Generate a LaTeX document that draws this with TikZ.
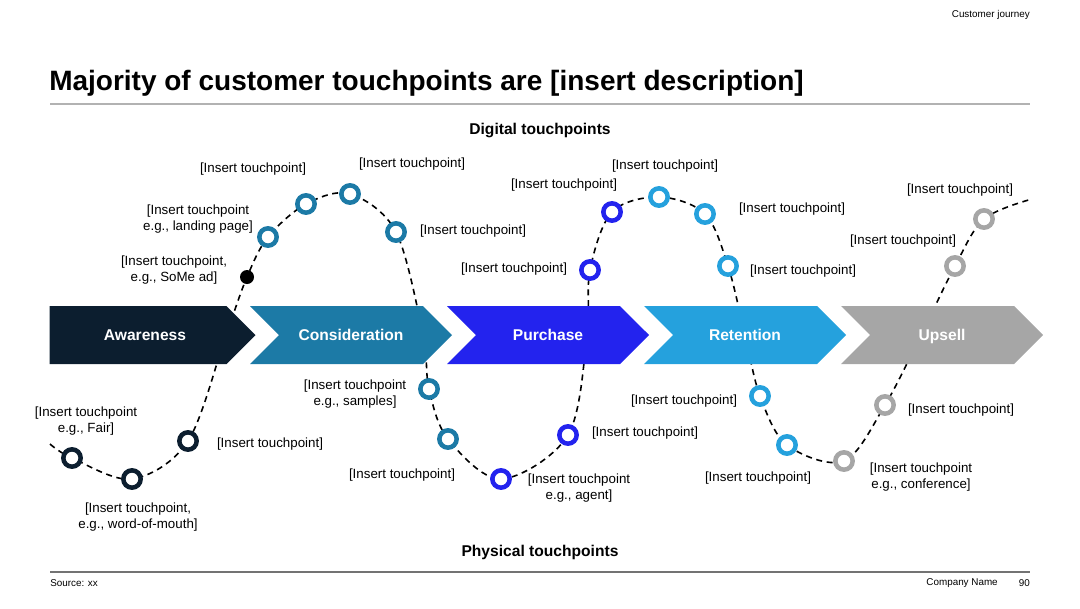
\documentclass[tikz,border=0pt]{standalone}
\usepackage{fontspec}
\setmainfont{Liberation Sans}
\usetikzlibrary{shapes.symbols,backgrounds}
\definecolor{cAware}{HTML}{0C1E2F}
\definecolor{cConsid}{HTML}{1C7AA6}
\definecolor{cPurch}{HTML}{2323EE}
\definecolor{cRetent}{HTML}{25A1DD}
\definecolor{cUpsell}{HTML}{A6A6A6}
\tikzset{
  stage/.style={signal, signal to=east, signal from=west, fill=#1, text=white,
    font=\fontsize{11.7}{14}\selectfont\bfseries, minimum width=151.5pt,
    minimum height=43.5pt, text height=8.4pt, text depth=0pt, inner sep=0pt, outer sep=0pt},
  tp/.style={circle, draw=#1, fill=white, line width=3.4pt, minimum size=13pt, inner sep=0pt},
  blackdot/.style={circle, fill=black, minimum size=10.5pt, inner sep=0pt},
  txt/.style={align=center, font=\fontsize{10}{12}\selectfont, inner sep=0pt},
  small/.style={font=\fontsize{7.4}{9}\selectfont, inner sep=0pt},
  head/.style={font=\fontsize{11.7}{14}\selectfont\bfseries, inner sep=0pt},
  journey/.style={line width=1.2pt, dash pattern=on 4.5pt off 3.5pt}
}

\begin{document}
\begin{tikzpicture}[x=0.75pt, y=-0.75pt]
        \useasboundingbox (0,0) rectangle (1080,608);
        \node [small, anchor=east] (hd) at (1030,15) {Customer journey};
        \node [anchor=base west, inner sep=0pt, font=\fontsize{21}{25}\selectfont\bfseries] (title) at (49,90) {Majority of customer touchpoints are [insert description]};
        \draw [line width=1.1pt, black!30] (50,104) -- (1030,104);
        \node [head] (dig) at (540,130) {Digital touchpoints};
        \node [head] (phy) at (540,552) {Physical touchpoints};
        \draw [line width=0.8pt, black!55] (50,572) -- (1030,572);
        \node [small, anchor=west] (src) at (50,583) {Source: xx};
        \node [small, anchor=east] (cmp) at (998,583) {Company Name};
        \node [small, anchor=east] (pg) at (1030,583) {90};

        \node [stage=cAware, signal from=nowhere, minimum width=154.5pt] (s1) at (138,335) {\hspace*{10.5pt}Awareness};
        \node [stage=cConsid] (s2) at (351,335) {Consideration};
        \node [stage=cPurch] (s3) at (548,335) {Purchase};
        \node [stage=cRetent] (s4) at (745,335) {Retention};
        \node [stage=cUpsell] (s5) at (942,335) {Upsell};

        \node [tp=cAware] (a1) at (72,458) {};
        \node [tp=cAware] (a2) at (132,479) {};
        \node [tp=cAware] (a3) at (188,441) {};
        \node [blackdot] (d1) at (247,277) {};
        \node [tp=cConsid] (c1) at (268,237) {};
        \node [tp=cConsid] (c2) at (306,204) {};
        \node [tp=cConsid] (c3) at (350,194) {};
        \node [tp=cConsid] (c4) at (396,232) {};
        \node [tp=cConsid] (c5) at (429,389) {};
        \node [tp=cConsid] (c6) at (448,439) {};
        \node [tp=cPurch] (p1) at (501,479) {};
        \node [tp=cPurch] (p2) at (568,435) {};
        \node [tp=cPurch] (p3) at (590,270) {};
        \node [tp=cPurch] (p4) at (612,212) {};
        \node [tp=cRetent] (r1) at (659,197) {};
        \node [tp=cRetent] (r2) at (705,214) {};
        \node [tp=cRetent] (r3) at (728,266) {};
        \node [tp=cRetent] (r4) at (760,396) {};
        \node [tp=cRetent] (r5) at (787,445) {};
        \node [tp=cUpsell] (u1) at (844,461) {};
        \node [tp=cUpsell] (u2) at (885,405) {};
        \node [tp=cUpsell] (u3) at (955,266) {};
        \node [tp=cUpsell] (u4) at (984,219) {};

        \coordinate (j0) at (50,444);
        \coordinate (m1) at (226,335);
        \coordinate (m2) at (423,335);
        \coordinate (m3) at (587,335);
        \coordinate (m4) at (745,335);
        \coordinate (m5) at (921,335);
        \coordinate (j1) at (1032,199);
        \begin{scope}[on background layer]
        \draw [journey] plot [smooth, tension=0.55] coordinates {(j0) (a1.center) (a2.center) (a3.center) (m1) (d1.center)
          (c1.center) (c2.center) (c3.center) (c4.center) (m2) (c5.center) (c6.center) (p1.center) (p2.center) (m3)
          (p3.center) (p4.center) (r1.center) (r2.center) (r3.center) (m4) (r4.center) (r5.center) (u1.center)
          (u2.center) (m5) (u3.center) (u4.center) (j1)};
        \end{scope}

        \node [txt] (l1) at (253,169) {[Insert touchpoint]};
        \node [txt] (l2) at (412,164) {[Insert touchpoint]};
        \node [txt] (l3) at (198,219) {[Insert touchpoint\\e.g., landing page]};
        \node [txt] (l4) at (174,270) {[Insert touchpoint,\\e.g., SoMe ad]};
        \node [txt] (l5) at (473,231) {[Insert touchpoint]};
        \node [txt] (l6) at (514,269) {[Insert touchpoint]};
        \node [txt] (l7) at (564,185) {[Insert touchpoint]};
        \node [txt] (l8) at (665,166) {[Insert touchpoint]};
        \node [txt] (l9) at (792,209) {[Insert touchpoint]};
        \node [txt] (l10) at (803,271) {[Insert touchpoint]};
        \node [txt] (l11) at (960,190) {[Insert touchpoint]};
        \node [txt] (l12) at (903,241) {[Insert touchpoint]};
        \node [txt] (l13) at (86,421) {[Insert touchpoint\\e.g., Fair]};
        \node [txt] (l14) at (138,517) {[Insert touchpoint,\\e.g., word-of-mouth]};
        \node [txt] (l15) at (270,444) {[Insert touchpoint]};
        \node [txt] (l16) at (355,394) {[Insert touchpoint\\e.g., samples]};
        \node [txt] (l17) at (402,475) {[Insert touchpoint]};
        \node [txt] (l18) at (579,488) {[Insert touchpoint\\e.g., agent]};
        \node [txt] (l19) at (645,433) {[Insert touchpoint]};
        \node [txt] (l20) at (684,401) {[Insert touchpoint]};
        \node [txt] (l21) at (758,478) {[Insert touchpoint]};
        \node [txt] (l22) at (961,410) {[Insert touchpoint]};
        \node [txt] (l23) at (921,477) {[Insert touchpoint\\e.g., conference]};
      \end{tikzpicture}
\end{document}
